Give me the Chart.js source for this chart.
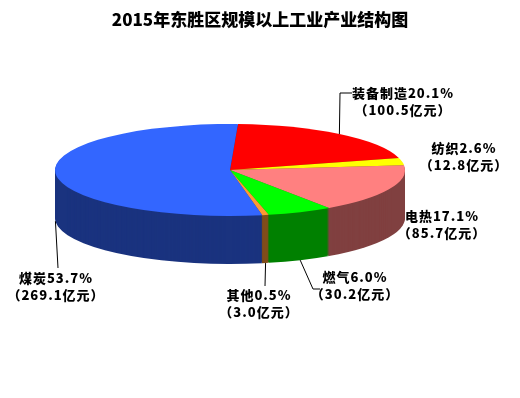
<!DOCTYPE html>
<html>
<head>
<meta charset="utf-8">
<script src="https://cdn.jsdelivr.net/npm/chart.js@4.4.0/dist/chart.umd.min.js"></script>
<style>
  body { margin: 0; background: #fff; }
</style>
</head>
<body>
<canvas id="pie-chart" width="520" height="398"></canvas>
<script>
const chartTitle = '2015年东胜区规模以上工业产业结构图';
const industries = ['装备制造', '纺织', '电热', '燃气', '其他', '煤炭'];
const outputValues = [100.5, 12.8, 85.7, 30.2, 3.0, 269.1];
const shareLabels = ['20.1%', '2.6%', '17.1%', '6.0%', '0.5%', '53.7%'];

const topColors = ['#ff0000', '#ffff00', '#ff8080', '#00ff00', '#ff9933', '#3366ff'];
const sideColors = ['#800000', '#808000', '#804040', '#008000', '#804d1a', '#1a337f'];

// pie gets squashed into an ellipse and pushed down for the side walls
const CX = 230;
const CY = 170;
const SQUASH = 46 / 175;
const DEPTH = 48;

// label text centre + leader bends; the leader starts on the slice edge
const labelSpots = [
  { x: 403, y: 93, from: 'top', bends: [[340, 93], [352, 93]] },
  { x: 464, y: 148, from: null, bends: [] },
  { x: 442, y: 216, from: null, bends: [] },
  { x: 355, y: 277, from: 'side', bends: [[313, 289], [320, 289]] },
  { x: 259, y: 295, from: 'side', bends: [[265, 286]] },
  { x: 56, y: 278, from: 'side', bends: [[58, 268]] }
];

const squash = (ctx, arc, drop) => {
  ctx.translate(CX, CY + drop);
  ctx.scale(1, SQUASH);
  ctx.translate(-arc.x, -arc.y);
};

const edgePoint = (arc, drop) => {
  const mid = (arc.startAngle + arc.endAngle) / 2;
  return [CX + arc.outerRadius * Math.cos(mid), CY + arc.outerRadius * Math.sin(mid) * SQUASH + drop];
};

const pie3d = {
  id: 'pie3d',
  beforeDatasetsDraw(chart) {
    const ctx = chart.ctx;
    const arcs = chart.getDatasetMeta(0).data;
    for (let d = DEPTH; d > 0; d--) {
      ctx.save();
      squash(ctx, arcs[0], d);
      arcs.forEach((arc, i) => {
        ctx.fillStyle = sideColors[i];
        ctx.beginPath();
        ctx.moveTo(arc.x, arc.y);
        ctx.arc(arc.x, arc.y, arc.outerRadius, arc.startAngle, arc.endAngle);
        ctx.closePath();
        ctx.fill();
      });
      ctx.restore();
    }
    ctx.save();
    squash(ctx, arcs[0], 0);
  },
  afterDatasetsDraw(chart) {
    chart.ctx.restore();
  },
  afterDraw(chart) {
    const ctx = chart.ctx;
    const arcs = chart.getDatasetMeta(0).data;
    ctx.save();
    ctx.fillStyle = '#000';
    ctx.textAlign = 'center';
    ctx.textBaseline = 'middle';
    ctx.font = '900 17px "Noto Sans CJK SC"';
    ctx.letterSpacing = '0px';
    ctx.fillText(chartTitle, 260, 20);

    ctx.strokeStyle = '#000';
    ctx.lineWidth = 1;
    ctx.font = '900 13px "Noto Sans CJK SC"';
    ctx.letterSpacing = '1px';
    labelSpots.forEach((spot, i) => {
      if (spot.from) {
        const start = edgePoint(arcs[i], spot.from === 'side' ? DEPTH : 0);
        ctx.beginPath();
        ctx.moveTo(start[0], start[1]);
        spot.bends.forEach(p => ctx.lineTo(p[0], p[1]));
        ctx.stroke();
      }
      ctx.fillText(industries[i] + shareLabels[i], spot.x, spot.y);
      ctx.fillText('（' + outputValues[i].toFixed(1) + '亿元）', spot.x, spot.y + 17);
    });
    ctx.restore();
  }
};

const pieChart = new Chart(document.querySelector('#pie-chart'), {
  type: 'pie',
  data: {
    labels: industries,
    datasets: [{
      data: outputValues,
      backgroundColor: topColors,
      borderWidth: 0,
      clip: false
    }]
  },
  options: {
    responsive: false,
    animation: false,
    events: [],
    rotation: 2.6,
    layout: { padding: { left: 55, right: 115, top: 24, bottom: 24 } },
    plugins: {
      legend: { display: false },
      title: { display: false },
      tooltip: { enabled: false }
    }
  },
  plugins: [pie3d]
});
</script>
</body>
</html>
